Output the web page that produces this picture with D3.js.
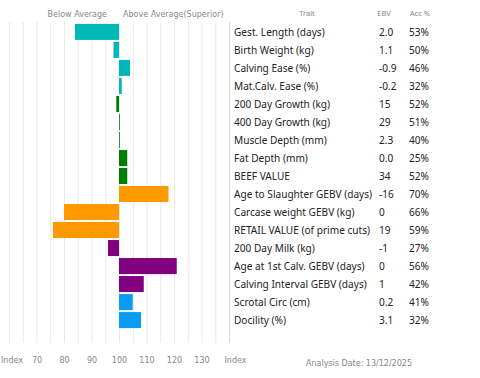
<!DOCTYPE html>
<html><head><meta charset="utf-8">
<script src="https://cdn.jsdelivr.net/npm/d3@7"></script>
<style>body{margin:0;background:#fff}svg{display:block}</style>
</head><body>
<svg id="c" width="480" height="378"></svg>
<script>
const traits = ["Gest. Length (days)","Birth Weight (kg)","Calving Ease (%)","Mat.Calv. Ease (%)","200 Day Growth (kg)","400 Day Growth (kg)","Muscle Depth (mm)","Fat Depth (mm)","BEEF VALUE","Age to Slaughter GEBV (days)","Carcase weight GEBV (kg)","RETAIL VALUE (of prime cuts)","200 Day Milk (kg)","Age at 1st Calv. GEBV (days)","Calving Interval GEBV (days)","Scrotal Circ (cm)","Docility (%)"];
const indexValues = [84,98,104,101,99,100.3,100.3,103,103,118,80,76,96,121,109,105,108];
const ebv = ["2.0","1.1","-0.9","-0.2","15","29","2.3","0.0","34","-16","0","19","-1","0","1","0.2","3.1"];
const acc = [53,50,46,32,52,51,40,25,52,70,66,59,27,56,42,41,32];
const groups = ["calving","calving","calving","calving","growth","growth","growth","growth","growth","carcase","carcase","carcase","maternal","maternal","maternal","other","other"];
const groupColors = {calving:"#00B8B8",growth:"#008000",carcase:"#FF9900",maternal:"#800080",other:"#0A9CF5"};
const tickValues = [60,70,80,90,100,110,120,130,140];
const tickLabels = ["Index","70","80","90","100","110","120","130","Index"];
const gridValues = d3.range(60,140,5);

const svg = d3.select("#c");
const x = d3.scaleLinear().domain([60,140]).range([9,229]);
const y = d3.scaleBand().domain(traits).range([23,329]).paddingInner(0.11).paddingOuter(0.05);
const gray = "#888";
const hdrFont = "Verdana, 'DejaVu Sans', sans-serif";
const txtFont = "'Noto Sans', 'Open Sans', sans-serif";

// gridlines
svg.append("g").selectAll("line").data(gridValues).join("line")
  .attr("x1",d=>x(d)+0.5).attr("x2",d=>x(d)+0.5).attr("y1",22).attr("y2",343)
  .attr("stroke","#e8e8e8").attr("stroke-width",1);
// table left border
svg.append("line").attr("x1",x(140)+0.5).attr("x2",x(140)+0.5).attr("y1",22).attr("y2",343)
  .attr("stroke","#d6d6d6");

// bars
svg.append("g").selectAll("rect").data(traits).join("rect")
  .attr("x",(d,i)=>x(Math.min(100,indexValues[i])))
  .attr("width",(d,i)=>Math.max(0.8,Math.abs(x(indexValues[i])-x(100))))
  .attr("y",d=>y(d)).attr("height",y.bandwidth())
  .attr("fill",(d,i)=>groupColors[groups[i]]);

// headers
svg.append("text").attr("x",107).attr("y",17).attr("text-anchor","end")
  .attr("font-family",hdrFont).attr("font-size",8).attr("fill",gray).text("Below Average");
svg.append("text").attr("x",123).attr("y",17)
  .attr("font-family",hdrFont).attr("font-size",8).attr("fill",gray).text("Above Average(Superior)");
svg.append("text").attr("x",307).attr("y",16).attr("text-anchor","middle")
  .attr("font-family",txtFont).attr("font-size",7.5).attr("fill",gray).text("Trait");
svg.append("text").attr("x",384).attr("y",16).attr("text-anchor","middle")
  .attr("font-family",txtFont).attr("font-size",7.5).attr("fill",gray).text("EBV");
svg.append("text").attr("x",420).attr("y",16).attr("text-anchor","middle")
  .attr("font-family",txtFont).attr("font-size",7.5).attr("fill",gray).text("Acc %");

// table rows
const rows = svg.append("g").selectAll("g").data(traits).join("g")
  .attr("transform",d=>`translate(0,${y(d)+y.bandwidth()/2+3.6})`)
  .attr("font-family",txtFont).attr("font-size",10.1).attr("fill","#222");
rows.append("text").attr("x",234).text(d=>d);
rows.append("text").attr("x",379).text((d,i)=>ebv[i]);
rows.append("text").attr("x",409).text((d,i)=>acc[i]+"%");

// bottom axis
const axis = d3.axisBottom(x).tickValues(tickValues).tickFormat((d,i)=>tickLabels[i]).tickSize(0).tickPadding(0);
const ag = svg.append("g").attr("transform","translate(0,357)").call(axis);
ag.select(".domain").remove();
ag.selectAll("text").attr("font-family",hdrFont).attr("font-size",8).attr("fill",gray);
ag.selectAll("text").filter((d,i)=>i===0).attr("text-anchor","start").attr("x",-x(60)+0.5);
ag.selectAll("text").filter((d,i)=>i===tickValues.length-1).attr("text-anchor","start").attr("x",-5);

svg.append("text").attr("x",359).attr("y",366).attr("text-anchor","middle")
  .attr("font-family",hdrFont).attr("font-size",8).attr("fill",gray).text("Analysis Date: 13/12/2025");
</script>
</body></html>
